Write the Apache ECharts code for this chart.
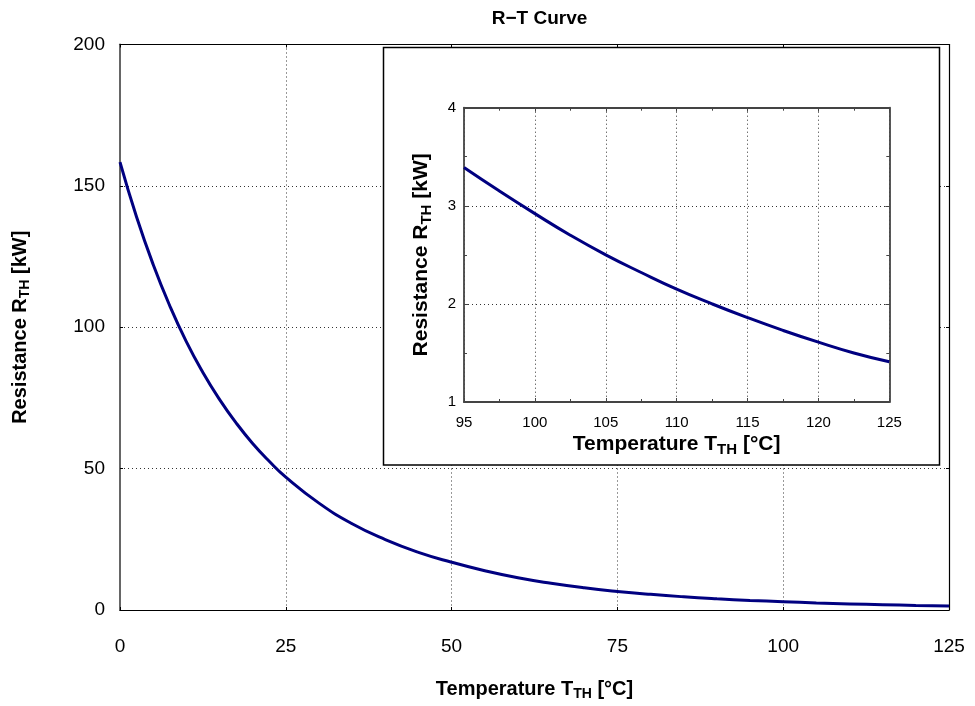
<!DOCTYPE html>
<html>
<head>
<meta charset="utf-8">
<script src="https://cdn.jsdelivr.net/npm/echarts@6/dist/echarts.min.js"></script>
<style>
  html, body { margin: 0; padding: 0; background: #fff; }
  #chart { width: 975px; height: 706px; }
</style>
</head>
<body>
<div id="chart"></div>
<script>
// ---- data ----
const titleText = 'R\u2212T Curve';
const mainTemp = [0, 2.5, 5, 7.5, 10, 12.5, 15, 17.5, 20, 22.5, 25, 30, 35, 40, 45, 50, 55, 60, 65, 70, 75, 80, 85, 90, 95, 100, 105, 110, 115, 120, 125];
const mainRes  = [158.4, 139.0, 122.2, 107.6, 94.9, 84.0, 74.5, 66.2, 58.9, 52.6, 47.0, 37.8, 30.5, 24.9, 20.4, 16.9, 13.9, 11.4, 9.45, 7.85, 6.57, 5.53, 4.67, 3.97, 3.39, 2.92, 2.50, 2.15, 1.86, 1.61, 1.41];
const insetTemp = [95, 97.5, 100, 102.5, 105, 107.5, 110, 112.5, 115, 117.5, 120, 122.5, 125];
const insetRes  = [3.39, 3.15, 2.92, 2.70, 2.50, 2.32, 2.15, 2.00, 1.86, 1.73, 1.61, 1.50, 1.41];
const mainXTicks = { min: 0, max: 125, interval: 25 };
const mainYTicks = { min: 0, max: 200, interval: 50 };
const insetXTicks = { min: 95, max: 125, interval: 5 };
const insetYTicks = { min: 1, max: 4, interval: 1 };

const FONT = '"Liberation Sans", Arial, Helvetica, sans-serif';
const LINE = '#000080';

function nameRich(size) {
  return {
    b: { fontFamily: FONT, fontSize: size, fontWeight: 'bold', color: '#000', lineHeight: size + 4, verticalAlign: 'middle' },
    s: { fontFamily: FONT, fontSize: Math.round(size * 0.72), fontWeight: 'bold', color: '#000', lineHeight: Math.round(size * 0.62), verticalAlign: 'bottom' }
  };
}
const xName = '{b|Temperature T}{s|TH}{b| [\u00B0C]}';
const yName = '{b|Resistance R}{s|TH}{b| [kW]}';

const dotted = { color: '#333', width: 1, type: [1, 3] };

const chart = echarts.init(document.getElementById('chart'), null, { renderer: 'canvas' });

const option = {
  backgroundColor: '#fff',
  animation: false,
  title: {
    text: titleText, left: 534.5, top: 4, textAlign: 'center',
    textStyle: { fontFamily: FONT, fontSize: 19, fontWeight: 'bold', color: '#000' }
  },
  grid: [
    { left: 120, top: 44.5, right: 26, bottom: 92.5 },
    { left: 464, top: 107.7, right: 85.7, bottom: 304 }
  ],
  graphic: [{
    type: 'rect', z: 10,
    shape: { x: 383.5, y: 47.5, width: 556, height: 417.5 },
    style: { fill: '#fff', stroke: '#000', lineWidth: 1.5 }
  }],
  xAxis: [
    { type: 'value', gridIndex: 0, position: 'bottom', min: mainXTicks.min, max: mainXTicks.max, interval: mainXTicks.interval,
      axisLine: { show: true, onZero: false, lineStyle: { color: '#000', width: 1.2 } },
      axisTick: { show: true, inside: true, length: 3, lineStyle: { color: '#000' } },
      axisLabel: { fontFamily: FONT, fontSize: 19, color: '#000', margin: 27 },
      splitLine: { show: true, lineStyle: dotted },
      name: xName, nameLocation: 'middle', nameGap: 67, nameTextStyle: { rich: nameRich(20) } },
    { type: 'value', gridIndex: 0, position: 'top', min: mainXTicks.min, max: mainXTicks.max, interval: mainXTicks.interval,
      axisLine: { show: true, onZero: false, lineStyle: { color: '#000', width: 1.2 } },
      axisTick: { show: true, inside: true, length: 3, lineStyle: { color: '#000' } },
      axisLabel: { show: false }, splitLine: { show: false } },
    { type: 'value', gridIndex: 1, position: 'bottom', min: insetXTicks.min, max: insetXTicks.max, interval: insetXTicks.interval, z: 20,
      axisLine: { show: true, onZero: false, lineStyle: { color: '#444', width: 1.8 } },
      axisTick: { show: true, inside: true, length: 4, lineStyle: { color: '#444' } },
      minorTick: { show: true, splitNumber: 2, length: 3, lineStyle: { color: '#444' } },
      axisLabel: { fontFamily: FONT, fontSize: 15, color: '#000', margin: 13 },
      splitLine: { show: true, lineStyle: dotted },
      name: xName, nameLocation: 'middle', nameGap: 30, nameTextStyle: { rich: nameRich(21) } },
    { type: 'value', gridIndex: 1, position: 'top', min: insetXTicks.min, max: insetXTicks.max, interval: insetXTicks.interval, z: 20,
      axisLine: { show: true, onZero: false, lineStyle: { color: '#444', width: 1.8 } },
      axisTick: { show: true, inside: true, length: 4, lineStyle: { color: '#444' } },
      minorTick: { show: true, splitNumber: 2, length: 3, lineStyle: { color: '#444' } },
      axisLabel: { show: false }, splitLine: { show: false } }
  ],
  yAxis: [
    { type: 'value', gridIndex: 0, position: 'left', min: mainYTicks.min, max: mainYTicks.max, interval: mainYTicks.interval,
      axisLine: { show: true, onZero: false, lineStyle: { color: '#666', width: 2 } },
      axisTick: { show: true, inside: true, length: 3, lineStyle: { color: '#000' } },
      axisLabel: { fontFamily: FONT, fontSize: 19, color: '#000', margin: 15 },
      splitLine: { show: true, lineStyle: dotted },
      name: yName, nameLocation: 'middle', nameRotate: 90, nameGap: 88, nameTextStyle: { rich: nameRich(20) } },
    { type: 'value', gridIndex: 0, position: 'right', min: mainYTicks.min, max: mainYTicks.max, interval: mainYTicks.interval,
      axisLine: { show: true, onZero: false, lineStyle: { color: '#000', width: 1.2 } },
      axisTick: { show: true, inside: true, length: 3, lineStyle: { color: '#000' } },
      axisLabel: { show: false }, splitLine: { show: false } },
    { type: 'value', gridIndex: 1, position: 'left', min: insetYTicks.min, max: insetYTicks.max, interval: insetYTicks.interval, z: 20,
      axisLine: { show: true, onZero: false, lineStyle: { color: '#444', width: 1.8 } },
      axisTick: { show: true, inside: true, length: 4, lineStyle: { color: '#444' } },
      minorTick: { show: true, splitNumber: 2, length: 3, lineStyle: { color: '#444' } },
      axisLabel: { fontFamily: FONT, fontSize: 15, color: '#000', margin: 8 },
      splitLine: { show: true, lineStyle: dotted },
      name: yName, nameLocation: 'middle', nameRotate: 90, nameGap: 30, nameTextStyle: { rich: nameRich(21) } },
    { type: 'value', gridIndex: 1, position: 'right', min: insetYTicks.min, max: insetYTicks.max, interval: insetYTicks.interval, z: 20,
      axisLine: { show: true, onZero: false, lineStyle: { color: '#444', width: 1.8 } },
      axisTick: { show: true, inside: true, length: 4, lineStyle: { color: '#444' } },
      minorTick: { show: true, splitNumber: 2, length: 3, lineStyle: { color: '#444' } },
      axisLabel: { show: false }, splitLine: { show: false } }
  ],
  series: [
    { type: 'line', xAxisIndex: 0, yAxisIndex: 0, data: mainTemp.map((t, i) => [t, mainRes[i]]),
      smooth: true, showSymbol: false, lineStyle: { color: LINE, width: 3 }, z: 3 },
    { type: 'line', xAxisIndex: 2, yAxisIndex: 2, data: insetTemp.map((t, i) => [t, insetRes[i]]),
      smooth: true, showSymbol: false, lineStyle: { color: LINE, width: 3 }, z: 30 }
  ]
};
chart.setOption(option);
</script>
</body>
</html>
